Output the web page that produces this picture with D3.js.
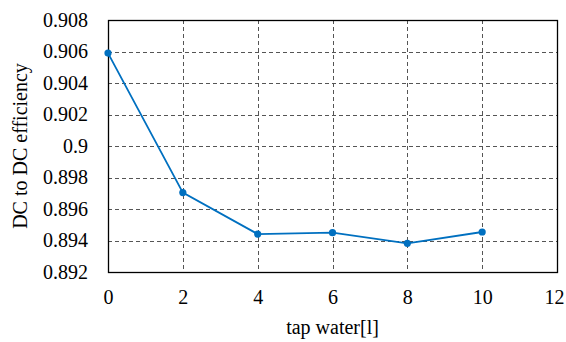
<!DOCTYPE html>
<html>
<head>
<meta charset="utf-8">
<script src="https://cdn.jsdelivr.net/npm/d3@7"></script>
<style>
  body { margin: 0; background: #fff; }
</style>
</head>
<body>
<div id="chart"></div>
<script>
// data
var water = [0, 2, 4, 6, 8, 10];
var efficiency = [0.9059, 0.89704, 0.89441, 0.8945, 0.89382, 0.89454];
var xTicks = [0, 2, 4, 6, 8, 10, 12];
var yTicks = [0.892, 0.894, 0.896, 0.898, 0.9, 0.902, 0.904, 0.906, 0.908];
var yTickLabels = ["0.892", "0.894", "0.896", "0.898", "0.9", "0.902", "0.904", "0.906", "0.908"];

var fontFamily = "'Liberation Serif', 'DejaVu Serif', 'Times New Roman', Times, serif";
var svgWidth = 566;
var svgHeight = 342;
var margin = {top: 20, right: 9, bottom: 70, left: 108};
var width = svgWidth - margin.left - margin.right;
var height = svgHeight - margin.top - margin.bottom;

var svg = d3.select('#chart')
  .append('svg')
  .attr('width', svgWidth)
  .attr('height', svgHeight)
  .style('font-family', fontFamily);
var chart = svg.append('g')
  .attr('transform', 'translate(' + margin.left + ',' + margin.top + ')');

var x = d3.scaleLinear().domain([0, 12]).range([0, width]);
var y = d3.scaleLinear().domain([0.892, 0.908]).range([height, 0]);

// grid lines
chart.append('g')
  .selectAll('line')
  .data(yTicks.slice(1, -1))
  .enter()
  .append('line')
  .attr('x1', 0)
  .attr('x2', width)
  .attr('y1', function(d) { return Math.round(y(d)) + 0.5; })
  .attr('y2', function(d) { return Math.round(y(d)) + 0.5; })
  .attr('stroke', '#555')
  .attr('stroke-width', 1)
  .attr('stroke-dasharray', '4,3');

chart.append('g')
  .selectAll('line')
  .data(xTicks.slice(1, -1))
  .enter()
  .append('line')
  .attr('y1', 0)
  .attr('y2', height)
  .attr('x1', function(d) { return Math.round(x(d)) + 0.5; })
  .attr('x2', function(d) { return Math.round(x(d)) + 0.5; })
  .attr('stroke', '#555')
  .attr('stroke-width', 1)
  .attr('stroke-dasharray', '4,3');

// plot border
chart.append('rect')
  .attr('x', 0.5)
  .attr('y', 0.5)
  .attr('width', width)
  .attr('height', height)
  .attr('fill', 'none')
  .attr('stroke', '#000')
  .attr('stroke-width', 1.3);

// axes (labels only)
var bottomAxis = d3.axisBottom(x).tickValues(xTicks).tickSize(0).tickPadding(18)
  .tickFormat(d3.format('d'));
var leftAxis = d3.axisLeft(y).tickValues(yTicks).tickSize(0).tickPadding(20)
  .tickFormat(function(d, i) { return yTickLabels[i]; });

var gx = chart.append('g')
  .attr('transform', 'translate(0,' + height + ')')
  .call(bottomAxis);
var gy = chart.append('g').call(leftAxis);
[gx, gy].forEach(function(g) {
  g.select('.domain').remove();
  g.style('font-family', fontFamily).style('font-size', '20px');
  g.selectAll('text')
    .style('font-family', fontFamily)
    .style('font-size', '20px')
    .attr('fill', '#000');
});
// keep the last x label inside the page
gx.selectAll('.tick text')
  .filter(function(d) { return d === 12; })
  .attr('text-anchor', 'end')
  .attr('dx', 7);

// line + markers
var line = d3.line()
  .x(function(d, i) { return x(water[i]); })
  .y(function(d) { return y(d); });

chart.append('path')
  .datum(efficiency)
  .attr('d', line)
  .attr('fill', 'none')
  .attr('stroke', '#0070C0')
  .attr('stroke-width', 1.8);

chart.selectAll('circle')
  .data(efficiency)
  .enter()
  .append('circle')
  .attr('cx', function(d, i) { return x(water[i]); })
  .attr('cy', function(d) { return y(d); })
  .attr('r', 3.6)
  .attr('fill', '#0070C0');

// axis titles
svg.append('text')
  .attr('x', margin.left + width / 2)
  .attr('y', 334)
  .attr('text-anchor', 'middle')
  .style('font-family', fontFamily)
  .style('font-size', '20px')
  .text('tap water[l]');

svg.append('text')
  .attr('transform', 'translate(27,' + (margin.top + height / 2) + ') rotate(-90)')
  .attr('text-anchor', 'middle')
  .style('font-family', fontFamily)
  .style('font-size', '20px')
  .text('DC to DC efficiency');
</script>
</body>
</html>
